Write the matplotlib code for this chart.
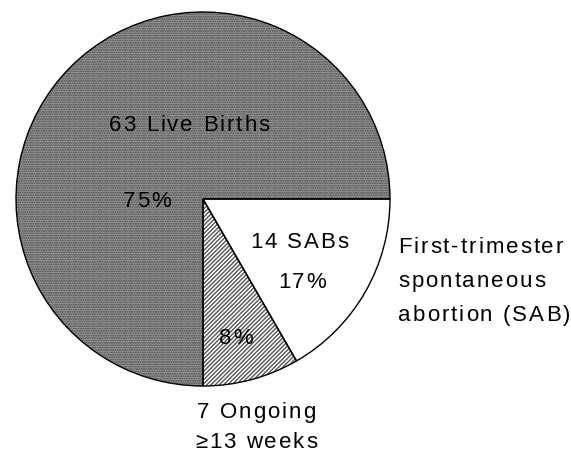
import matplotlib.pyplot as plt
from matplotlib import font_manager
from matplotlib.ft2font import FT2Font

# outcome counts (n = 84 pregnancies)
labels = ['SAB', 'Ongoing', 'Live Births']
counts = [14, 7, 63]
pcts = ['17%', '8%', '75%']
count_txt = ['14 SABs', '7 Ongoing', '63 Live Births']
sab_note = ['First-trimester', 'spontaneous', 'abortion (SAB)']
ongoing_note = '\u226513 weeks'

FAMILY = 'Liberation Sans'
FS = 16          # pt
TRACK = 2.0      # extra px between letters (the original is letter-spaced)
H = 454

fig = plt.figure(figsize=(5.71, 4.54), dpi=100)
ax = fig.add_axes([0, 0, 1, 1])

font_path = font_manager.findfont(font_manager.FontProperties(family=FAMILY))
ft = FT2Font(font_path)
ft.set_size(FS, 100)


def spaced_text(x, y_img, s):
    # draw s with its baseline at image row y_img, starting at x, letter-spaced
    cx = x
    for ch in s:
        ax.text(cx, H - y_img, ch, fontsize=FS, family=FAMILY,
                ha='left', va='baseline', zorder=5)
        g = ft.load_char(ord(ch))
        cx += g.linearHoriAdvance / 65536 + TRACK


cx, cy, r = 203, H - 199, 187
faces = ['white', 'white', '#9a9a9a']

# base wedges, then texture, then outlines on top
base, _ = ax.pie(counts, startangle=0, counterclock=False, center=(cx, cy),
                 radius=r, colors=faces, frame=True,
                 wedgeprops=dict(linewidth=0))
tex, _ = ax.pie(counts, startangle=0, counterclock=False, center=(cx, cy),
                radius=r, colors=['none'] * 3, frame=True,
                wedgeprops=dict(linewidth=0))
hatches = [None, '/' * 8, '.' * 7]
hcols = [None, '#555555', '#4a4a4a']
for w, h, c in zip(tex, hatches, hcols):
    if h:
        w.set_hatch(h)
        w.set_edgecolor(c)
plt.rcParams['hatch.linewidth'] = 0.5
out, _ = ax.pie(counts, startangle=0, counterclock=False, center=(cx, cy),
                radius=r, colors=['none'] * 3, frame=True,
                wedgeprops=dict(edgecolor='black', linewidth=1.0))
for ws, z in ((base, 1), (tex, 2), (out, 3)):
    for w in ws:
        w.set_zorder(z)

ax.set_xlim(0, 571)
ax.set_ylim(0, H)
ax.set_aspect('equal')
ax.axis('off')

# labels (x = left edge, y = baseline in image rows)
spaced_text(109, 131, count_txt[2])
spaced_text(123, 207, pcts[2])
spaced_text(250, 248, count_txt[0])
spaced_text(278, 288, pcts[0])
spaced_text(219, 344, pcts[1])
for i, line in enumerate(sab_note):
    spaced_text(398, 253 + 34 * i, line)
spaced_text(197, 418, count_txt[1])
spaced_text(195, 448, ongoing_note)

fig.savefig('out.png', dpi=100)
